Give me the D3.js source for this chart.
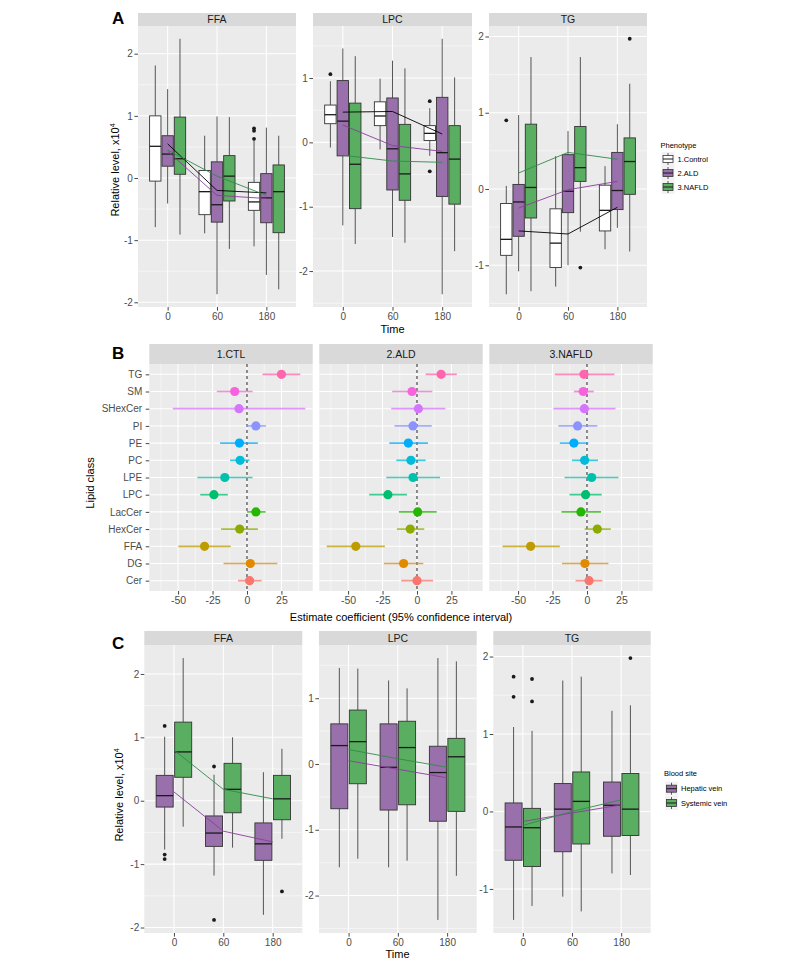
<!DOCTYPE html>
<html><head><meta charset="utf-8">
<script src="https://cdn.jsdelivr.net/npm/d3@7"></script>
<style>body{margin:0;background:#fff} text{font-family:"Liberation Sans",Arial,Helvetica,sans-serif}</style>
</head><body><svg id="fig" width="787" height="962"></svg>
<script>
// ---------------- DATA ----------------
const times = ["0", "60", "180"];
const phenotypes = ["1.Control", "2.ALD", "3.NAFLD"];
const bloodSites = ["Hepatic vein", "Systemic vein"];
const boxLipids = ["FFA", "LPC", "TG"];

// Panel A box stats: [lower whisker, Q1, median, Q3, upper whisker], order: time then phenotype
const boxA_FFA = [
  [-0.79, -0.05, 0.51, 1.00, 1.81], [-0.41, 0.19, 0.385, 0.68, 1.43], [-0.91, 0.06, 0.31, 0.98, 2.24],
  [-0.89, -0.59, -0.22, 0.12, 0.68], [-1.87, -0.71, -0.43, 0.26, 0.99], [-1.14, -0.37, 0.03, 0.36, 0.98],
  [-1.10, -0.52, -0.385, -0.07, 0.61], [-1.56, -0.72, -0.32, 0.07, 0.81], [-1.79, -0.88, -0.22, 0.21, 0.68]
];
const boxA_LPC = [
  [-0.08, 0.29, 0.43, 0.58, 0.95], [-1.29, -0.21, 0.33, 0.96, 1.46], [-1.58, -1.03, -0.34, 0.61, 1.34],
  [-0.11, 0.26, 0.41, 0.63, 0.99], [-1.47, -0.74, -0.10, 0.69, 1.27], [-1.56, -0.90, -0.49, 0.28, 1.15],
  [-0.21, 0.03, 0.14, 0.26, 0.53], [-2.36, -0.84, -0.16, 0.70, 1.61], [-1.69, -0.96, -0.26, 0.26, 1.01]
];
const boxA_TG = [
  [-1.38, -0.87, -0.66, -0.19, 0.04], [-1.08, -0.62, -0.17, 0.06, 0.97], [-1.34, -0.38, 0.02, 0.85, 1.73],
  [-1.28, -1.03, -0.71, -0.26, 0.43], [-1.00, -0.31, -0.03, 0.45, 0.76], [-0.56, 0.10, 0.28, 0.82, 1.73],
  [-0.79, -0.55, -0.28, 0.05, 0.30], [-0.51, -0.27, -0.02, 0.48, 0.85], [-0.82, -0.07, 0.36, 0.67, 1.38]
];
// outliers: [time, group index, value]
const outA_FFA = [["180", 0, 0.80], ["180", 0, 0.76], ["180", 0, 0.63]];
const outA_LPC = [["0", 0, 1.06], ["180", 0, 0.64], ["180", 0, -0.45]];
const outA_TG = [["0", 0, 0.90], ["60", 2, -1.03], ["180", 2, 1.97]];
// trend lines per phenotype, values at times 0, 60, 180
const meanA_FFA = [[0.55, -0.20, -0.24], [0.43, -0.28, -0.33], [0.45, 0.03, -0.28]];
const meanA_LPC = [[0.47, 0.48, 0.13], [0.27, -0.05, -0.14], [-0.20, -0.29, -0.31]];
const meanA_TG = [[-0.55, -0.59, -0.24], [-0.25, -0.01, 0.10], [0.21, 0.48, 0.39]];

// Panel B forest data
const lipidClasses = ["TG", "SM", "SHexCer", "PI", "PE", "PC", "LPE", "LPC", "LacCer", "HexCer", "FFA", "DG", "Cer"];
const contrastGroups = ["1.CTL", "2.ALD", "3.NAFLD"];
const estCTL = [25, -8.9, -5.8, 6.5, -5.5, -5, -16.1, -24, 6.5, -5.3, -30.8, 2.4, 1.9];
const lowCTL = [11.3, -21.9, -53.8, -0.7, -19.5, -12.3, -36, -33.9, 0, -18.8, -49.8, -17, -6.5];
const highCTL = [38.7, 4.1, 42.3, 13.7, 7.9, 1.9, 4.1, -13.9, 13.5, 7.9, -11.8, 22.1, 10.6];
const estALD = [17.5, -3.6, 1, -2.9, -6.3, -4.4, -2.9, -21.1, 0.5, -4.9, -44.4, -9.7, 0];
const lowALD = [6.3, -18, -18.7, -16.3, -20.1, -15, -22.3, -34.7, -13.1, -14.6, -65.5, -24, -11.4];
const highALD = [28.9, 11.2, 20.6, 10.7, 8.0, 6.3, 16.7, -7.3, 14.3, 5.3, -23.3, 4.6, 11.7];
const estNAFLD = [-2.2, -2.7, -1.9, -6.8, -9.5, -1.7, 3.4, -1, -4.4, 7.5, -40.9, -1.5, 1.5];
const lowNAFLD = [-23.4, -9.5, -24.3, -20.7, -19.7, -10.9, -16.3, -12.7, -18.5, -1.7, -61.3, -18.2, -8.3];
const highNAFLD = [20, 4.9, 20.7, 7.5, 1.0, 8.0, 22.9, 10.7, 10.2, 17.3, -19.7, 15.6, 11.2];
const forestTicks = [-50, -25, 0, 25];

// Panel C box stats, order: time then blood site
const boxC_FFA = [
  [-0.77, -0.10, 0.08, 0.40, 1.01], [-0.41, 0.37, 0.77, 1.24, 2.25],
  [-1.18, -0.72, -0.51, -0.24, 0.41], [-0.74, -0.19, 0.18, 0.59, 1.00],
  [-1.80, -0.94, -0.68, -0.35, 0.45], [-0.60, -0.30, 0.03, 0.40, 0.82]
];
const boxC_LPC = [
  [-1.57, -0.68, 0.28, 0.61, 1.46], [-1.44, -0.30, 0.34, 0.82, 1.45],
  [-1.57, -0.70, -0.05, 0.61, 1.27], [-1.47, -0.62, 0.25, 0.65, 1.15],
  [-2.37, -0.87, -0.13, 0.27, 1.61], [-1.70, -0.72, 0.11, 0.39, 1.56]
];
const boxC_TG = [
  [-1.40, -0.63, -0.20, 0.11, 1.09], [-1.22, -0.71, -0.21, 0.04, 1.04],
  [-1.10, -0.52, 0.03, 0.36, 1.69], [-1.29, -0.42, 0.13, 0.51, 1.74],
  [-0.80, -0.32, 0.08, 0.38, 1.30], [-0.82, -0.31, 0.03, 0.49, 1.37]
];
const outC_FFA = [["0", 0, 1.18], ["0", 0, -0.85], ["0", 0, -0.92], ["60", 0, 0.54], ["60", 0, -1.88], ["180", 1, -1.43]];
const outC_LPC = [];
const outC_TG = [["0", 0, 1.74], ["0", 0, 1.48], ["0", 1, 1.71], ["0", 1, 1.42], ["180", 1, 1.98]];
const meanC_FFA = [[0.14, -0.48, -0.65], [0.80, 0.18, 0.03]];
const meanC_LPC = [[0.05, -0.08, -0.21], [0.22, 0.08, -0.05]];
const meanC_TG = [[-0.13, -0.02, 0.085], [-0.18, 0.00, 0.15]];

// ---------------- STYLE ----------------
const fillsA = ["#FFFFFF", "#9970AB", "#5AAE61"];
const linesA = ["#000000", "#8A3C9C", "#2E8B4A"];
const fillsC = ["#9970AB", "#5AAE61"];
const linesC = ["#8A3C9C", "#2E8B4A"];
const classColors = {Cer:"#F8766D", DG:"#E18A00", FFA:"#BE9C00", HexCer:"#8CAB00", LacCer:"#24B700",
  LPC:"#00BE70", LPE:"#00C1AB", PC:"#00BBDA", PE:"#00ACFC", PI:"#8B93FF", SHexCer:"#D575FE", SM:"#F962DD", TG:"#FF65AC"};
const PANEL_BG = "#EBEBEB", STRIP_BG = "#D9D9D9", TICK_TXT = "#4D4D4D";

const svg = d3.select("#fig");
svg.append("rect").attr("width", 787).attr("height", 962).attr("fill", "#fff");

function styleAxis(ax, fs) {
  ax.select(".domain").remove();
  ax.selectAll(".tick line").attr("stroke", "#333").attr("stroke-width", 0.9);
  ax.selectAll(".tick text").attr("fill", TICK_TXT).attr("font-size", fs)
    .attr("font-family", '"Liberation Sans",Arial,sans-serif');
}

function boxPanel(cfg) {
  const {x0, x1, top, bottom, stripTop, title, stats, outliers, means, fills, lineCols, fs} = cfg;
  const n = fills.length;
  const g = svg.append("g");
  const x = d3.scalePoint().domain(times).range([x0, x1]).padding(0.6);
  const vals = stats.flat().concat(outliers.map(o => o[2]));
  const [mn, mx] = d3.extent(vals);
  const pad = (mx - mn) * 0.05;
  const y = d3.scaleLinear().domain([mn - pad, mx + pad]).range([bottom, top]);
  const [lo, hi] = y.domain();
  // strip
  g.append("rect").attr("x", x0).attr("y", stripTop).attr("width", x1 - x0).attr("height", top - stripTop).attr("fill", STRIP_BG);
  g.append("text").attr("x", (x0 + x1) / 2).attr("y", (stripTop + top) / 2).attr("dy", "0.35em")
    .attr("text-anchor", "middle").attr("font-size", 10.5).attr("fill", "#1A1A1A").text(title);
  g.append("rect").attr("x", x0).attr("y", top).attr("width", x1 - x0).attr("height", bottom - top).attr("fill", PANEL_BG);
  const minor = d3.range(Math.floor(lo) + 0.5, hi, 1).filter(v => v >= lo);
  const major = d3.range(Math.ceil(lo), Math.floor(hi) + 1);
  g.selectAll(".mn").data(minor).join("line").attr("x1", x0).attr("x2", x1)
    .attr("y1", d => y(d)).attr("y2", d => y(d)).attr("stroke", "#fff").attr("stroke-width", 0.5);
  g.selectAll(".mj").data(major).join("line").attr("x1", x0).attr("x2", x1)
    .attr("y1", d => y(d)).attr("y2", d => y(d)).attr("stroke", "#fff").attr("stroke-width", 1.05);
  g.selectAll(".vg").data(times).join("line").attr("x1", d => x(d)).attr("x2", d => x(d))
    .attr("y1", top).attr("y2", bottom).attr("stroke", "#fff").attr("stroke-width", 1.05);
  const dodge = 0.75 * x.step(), slot = dodge / n, bw = slot * 0.92;
  const cx = (t, gi) => x(t) - dodge / 2 + slot * (gi + 0.5);
  stats.forEach((s, i) => {
    const t = times[Math.floor(i / n)], gi = i % n, c = cx(t, gi);
    g.append("line").attr("x1", c).attr("x2", c).attr("y1", y(s[4])).attr("y2", y(s[3])).attr("stroke", "#444").attr("stroke-width", 0.9);
    g.append("line").attr("x1", c).attr("x2", c).attr("y1", y(s[1])).attr("y2", y(s[0])).attr("stroke", "#444").attr("stroke-width", 0.9);
    g.append("rect").attr("x", c - bw / 2).attr("width", bw).attr("y", y(s[3])).attr("height", y(s[1]) - y(s[3]))
      .attr("fill", fills[gi]).attr("stroke", "#333").attr("stroke-width", 0.9);
    g.append("line").attr("x1", c - bw / 2).attr("x2", c + bw / 2).attr("y1", y(s[2])).attr("y2", y(s[2]))
      .attr("stroke", "#1A1A1A").attr("stroke-width", 1.3);
  });
  g.selectAll(".out").data(outliers).join("circle").attr("cx", d => cx(d[0], d[1])).attr("cy", d => y(d[2]))
    .attr("r", 1.9).attr("fill", "#1A1A1A");
  const line = d3.line().x((d, i) => x(times[i])).y(d => y(d));
  means.forEach((m, gi) => {
    g.append("path").attr("d", line(m)).attr("fill", "none").attr("stroke", lineCols[gi]).attr("stroke-width", 0.9);
  });
  const yAx = g.append("g").attr("transform", `translate(${x0},0)`)
    .call(d3.axisLeft(y).tickValues(major).tickSize(3.6).tickPadding(1.5).tickFormat(d => String(d)));
  styleAxis(yAx, fs);
  const xAx = g.append("g").attr("transform", `translate(0,${bottom})`)
    .call(d3.axisBottom(x).tickSize(3.6).tickPadding(2));
  styleAxis(xAx, fs);
}

// ---------------- PANEL A ----------------
const aTop = 26, aBottom = 307, aStrip = 13;
const aCols = [[138, 296], [313, 472], [489, 647]];
const aStats = [boxA_FFA, boxA_LPC, boxA_TG], aOut = [outA_FFA, outA_LPC, outA_TG], aMeans = [meanA_FFA, meanA_LPC, meanA_TG];
boxLipids.forEach((lp, i) => boxPanel({x0: aCols[i][0], x1: aCols[i][1], top: aTop, bottom: aBottom, stripTop: aStrip,
  title: lp, stats: aStats[i], outliers: aOut[i], means: aMeans[i], fills: fillsA, lineCols: linesA, fs: 10}));

function yTitle(cx, cy) {
  const t = svg.append("text").attr("transform", `translate(${cx},${cy}) rotate(-90)`).attr("text-anchor", "middle")
    .attr("font-size", 11).attr("fill", "#000");
  t.append("tspan").text("Relative level, x10");
  t.append("tspan").attr("dy", -4).attr("font-size", 7).text("4");
}
yTitle(119, 170);
svg.append("text").attr("x", 392.5).attr("y", 333).attr("text-anchor", "middle").attr("font-size", 11).text("Time");

function legend(x, yTitleBase, title, labels, fills, yStart, step) {
  const g = svg.append("g");
  g.append("text").attr("x", x).attr("y", yTitleBase).attr("font-size", 7.5).attr("fill", "#000").text(title);
  labels.forEach((lb, i) => {
    const cy = yStart + i * step;
    g.append("rect").attr("x", x + 1).attr("y", cy - 7).attr("width", 13).attr("height", 14).attr("fill", "#F2F2F2");
    g.append("line").attr("x1", x + 7.5).attr("x2", x + 7.5).attr("y1", cy - 6).attr("y2", cy + 6).attr("stroke", "#333").attr("stroke-width", 0.8);
    g.append("rect").attr("x", x + 2.5).attr("y", cy - 3.5).attr("width", 10).attr("height", 7).attr("fill", fills[i]).attr("stroke", "#333").attr("stroke-width", 0.8);
    g.append("line").attr("x1", x + 2.5).attr("x2", x + 12.5).attr("y1", cy).attr("y2", cy).attr("stroke", "#1A1A1A").attr("stroke-width", 1);
    g.append("text").attr("x", x + 17).attr("y", cy).attr("dy", "0.35em").attr("font-size", 7.5).attr("fill", "#000").text(lb);
  });
}
legend(660.5, 148, "Phenotype", phenotypes, fillsA, 159, 14);

// ---------------- PANEL B ----------------
const bTop = 364, bBottom = 591, bStrip = 344;
const bCols = [[149.3, 312.7], [319.3, 482.7], [489.3, 652.7]];
const bEst = [estCTL, estALD, estNAFLD], bLow = [lowCTL, lowALD, lowNAFLD], bHigh = [highCTL, highALD, highNAFLD];
const allB = bLow.flat().concat(bHigh.flat());
const [bmn, bmx] = d3.extent(allB), bpad = (bmx - bmn) * 0.05;
contrastGroups.forEach((cg, k) => {
  const [x0, x1] = bCols[k];
  const g = svg.append("g");
  const x = d3.scaleLinear().domain([bmn - bpad, bmx + bpad]).range([x0, x1]);
  const y = d3.scalePoint().domain(lipidClasses).range([bTop, bBottom]).padding(0.6);
  g.append("rect").attr("x", x0).attr("y", bStrip).attr("width", x1 - x0).attr("height", bTop - bStrip).attr("fill", STRIP_BG);
  g.append("text").attr("x", (x0 + x1) / 2).attr("y", (bStrip + bTop) / 2).attr("dy", "0.35em").attr("text-anchor", "middle")
    .attr("font-size", 10.5).attr("fill", "#1A1A1A").text(cg);
  g.append("rect").attr("x", x0).attr("y", bTop).attr("width", x1 - x0).attr("height", bBottom - bTop).attr("fill", PANEL_BG);
  const minor = forestTicks.map(t => t - 12.5).concat([forestTicks[forestTicks.length - 1] + 12.5]).filter(v => v >= x.domain()[0] && v <= x.domain()[1]);
  g.selectAll(".mn").data(minor).join("line").attr("x1", d => x(d)).attr("x2", d => x(d)).attr("y1", bTop).attr("y2", bBottom)
    .attr("stroke", "#fff").attr("stroke-width", 0.5);
  g.selectAll(".mj").data(forestTicks).join("line").attr("x1", d => x(d)).attr("x2", d => x(d)).attr("y1", bTop).attr("y2", bBottom)
    .attr("stroke", "#fff").attr("stroke-width", 1.05);
  g.selectAll(".hg").data(lipidClasses).join("line").attr("x1", x0).attr("x2", x1).attr("y1", d => y(d)).attr("y2", d => y(d))
    .attr("stroke", "#fff").attr("stroke-width", 1.05);
  g.append("line").attr("x1", x(0)).attr("x2", x(0)).attr("y1", bTop).attr("y2", bBottom)
    .attr("stroke", "#333").attr("stroke-width", 1.1).attr("stroke-dasharray", "3,3");
  lipidClasses.forEach((lc, i) => {
    g.append("line").attr("x1", x(bLow[k][i])).attr("x2", x(bHigh[k][i])).attr("y1", y(lc)).attr("y2", y(lc))
      .attr("stroke", classColors[lc]).attr("stroke-width", 1.7).attr("stroke-opacity", 0.75);
    g.append("circle").attr("cx", x(bEst[k][i])).attr("cy", y(lc)).attr("r", 4.6).attr("fill", classColors[lc]);
  });
  const xAx = g.append("g").attr("transform", `translate(0,${bBottom})`)
    .call(d3.axisBottom(x).tickValues(forestTicks).tickSize(3.6).tickPadding(2).tickFormat(d => String(d)));
  styleAxis(xAx, 10.5);
  if (k === 0) {
    const yAx = g.append("g").attr("transform", `translate(${x0},0)`).call(d3.axisLeft(y).tickSize(3.6).tickPadding(3.5));
    styleAxis(yAx, 10);
  }
});
svg.append("text").attr("transform", "translate(94,483) rotate(-90)").attr("text-anchor", "middle").attr("font-size", 11).text("Lipid class");
svg.append("text").attr("x", 401).attr("y", 621).attr("text-anchor", "middle").attr("font-size", 11)
  .text("Estimate coefficient (95% confidence interval)");

// ---------------- PANEL C ----------------
const cTop = 645, cBottom = 933, cStrip = 631;
const cCols = [[144.3, 302.3], [319, 476.7], [493.3, 650.7]];
const cStats = [boxC_FFA, boxC_LPC, boxC_TG], cOut = [outC_FFA, outC_LPC, outC_TG], cMeans = [meanC_FFA, meanC_LPC, meanC_TG];
boxLipids.forEach((lp, i) => boxPanel({x0: cCols[i][0], x1: cCols[i][1], top: cTop, bottom: cBottom, stripTop: cStrip,
  title: lp, stats: cStats[i], outliers: cOut[i], means: cMeans[i], fills: fillsC, lineCols: linesC, fs: 10}));
yTitle(123, 795);
svg.append("text").attr("x", 397.5).attr("y", 958).attr("text-anchor", "middle").attr("font-size", 11).text("Time");
legend(664, 776, "Blood site", bloodSites, fillsC, 788.7, 14.3);

// panel labels
[["A", 24], ["B", 359], ["C", 649]].forEach(([l, yb]) => svg.append("text").attr("x", 112).attr("y", yb)
  .attr("font-size", 17).attr("font-weight", "bold").attr("fill", "#000").text(l));
</script></body></html>
